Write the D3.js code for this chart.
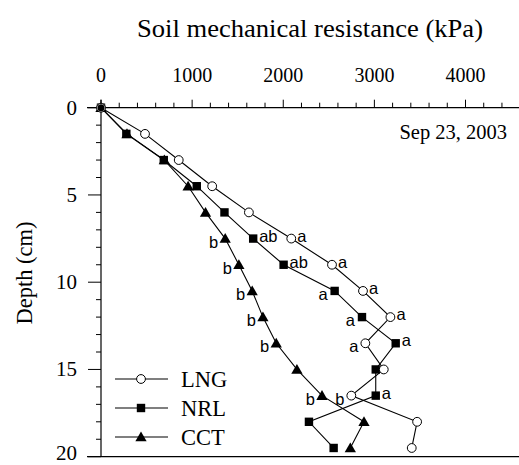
<!DOCTYPE html>
<html>
<head>
<meta charset="utf-8">
<script src="https://cdn.jsdelivr.net/npm/d3@7"></script>
<style>
  body { margin: 0; background: #fff; }
  .serif { font-family: "Liberation Serif", "DejaVu Serif", serif; }
  .sans { font-family: "Liberation Sans", Arial, sans-serif; }
</style>
</head>
<body>
<svg id="chart" width="519" height="465"></svg>
<script>
/*---- DATA ----*/
var depths = [0, 1.5, 3, 4.5, 6, 7.5, 9, 10.5, 12, 13.5, 15, 16.5, 18, 19.5];
var lng = [0, 483, 853, 1220, 1623, 2088, 2535, 2875, 3176, 2901, 3103, 2747, 3469, 3410];
var nrl = [0, 278, 689, 1051, 1355, 1670, 2004, 2564, 2864, 3234, 3015, 3015, 2282, 2553];
var cct = [0, 285, 695, 956, 1147, 1363, 1513, 1659, 1777, 1923, 2150, 2425, 2886, 2736];
// significance letters: [depth, text, side]
var lng_letters = [[7.5, "a", "r"], [9, "a", "r"], [10.5, "a", "r"], [12, "a", "r"], [13.5, "a", "l"], [16.5, "b", "l"]];
var nrl_letters = [[7.5, "ab", "r"], [9, "ab", "r"], [10.5, "a", "l"], [12, "a", "l"], [13.5, "a", "r"], [16.5, "a", "r"]];
var cct_letters = [[7.5, "b", "l"], [9, "b", "l"], [10.5, "b", "l"], [12, "b", "l"], [13.5, "b", "l"], [16.5, "b", "l"]];
var x_ticks = [0, 1000, 2000, 3000, 4000];
var y_ticks = [0, 5, 10, 15, 20];
var series_names = ["LNG", "NRL", "CCT"];

/*---- SCALES ----*/
var svg = d3.select("#chart");
var x = d3.scaleLinear().domain([0, 4000]).range([101, 465.5]);
var y = d3.scaleLinear().domain([0, 20]).range([107.7, 456.7]);

function pts(vals) {
    return vals.map(function(v, i) { return [v, depths[i]]; });
}
var line = d3.line().x(function(d) { return x(d[0]); }).y(function(d) { return y(d[1]); });

/*---- AXES ----*/
// top axis
var top_axis = svg.append("g").attr("transform", "translate(0," + y(0) + ")");
top_axis.append("line").attr("x1", 87).attr("x2", 519).attr("stroke", "#000").attr("stroke-width", 1.2);
top_axis.selectAll(".xminor")
    .data(d3.range(0, 4600, 200))
    .enter().append("line")
    .attr("x1", x).attr("x2", x)
    .attr("y1", 0)
    .attr("y2", function(d) { return d % 1000 === 0 ? -8 : -5; })
    .attr("stroke", "#000").attr("stroke-width", 1);
top_axis.selectAll(".xlab")
    .data(x_ticks)
    .enter().append("text")
    .attr("class", "serif")
    .attr("x", x).attr("y", -26)
    .attr("text-anchor", "middle")
    .attr("font-size", 20)
    .text(function(d) { return d; });

// bottom line
svg.append("line").attr("x1", 87).attr("x2", 519)
    .attr("y1", y(20)).attr("y2", y(20))
    .attr("stroke", "#000").attr("stroke-width", 1.2);

// left axis
var left_axis = svg.append("g").attr("transform", "translate(" + x(0) + ",0)");
left_axis.append("line").attr("y1", y(0) - 8).attr("y2", y(20)).attr("stroke", "#000").attr("stroke-width", 1.2);
left_axis.selectAll(".ytick")
    .data(d3.range(0, 21, 1))
    .enter().append("line")
    .attr("y1", y).attr("y2", y)
    .attr("x1", 0)
    .attr("x2", function(d) { return d % 5 === 0 ? -13 : -5; })
    .attr("stroke", "#000").attr("stroke-width", 1);
left_axis.selectAll(".ylab")
    .data(y_ticks)
    .enter().append("text")
    .attr("class", "serif")
    .attr("x", -24).attr("y", function(d) { return Math.min(y(d) + 7, 460); })
    .attr("text-anchor", "end")
    .attr("font-size", 21)
    .text(function(d) { return d; });

// titles
svg.append("text").attr("class", "serif")
    .attr("x", 310).attr("y", 37)
    .attr("text-anchor", "middle").attr("font-size", 25)
    .attr("textLength", 346).attr("lengthAdjust", "spacingAndGlyphs")
    .text("Soil mechanical resistance (kPa)");
svg.append("text").attr("class", "serif")
    .attr("transform", "translate(32,273) rotate(-90)")
    .attr("text-anchor", "middle").attr("font-size", 22.5)
    .text("Depth (cm)");
svg.append("text").attr("class", "serif")
    .attr("x", 507).attr("y", 139)
    .attr("text-anchor", "end").attr("font-size", 20.5)
    .text("Sep 23, 2003");

/*---- SERIES ----*/
var tri = d3.symbol().type(d3.symbolTriangle).size(55);

function draw_series(vals, kind) {
    var g = svg.append("g");
    g.append("path").datum(pts(vals))
        .attr("d", line).attr("fill", "none")
        .attr("stroke", "#000").attr("stroke-width", 1.1);
    var m = g.selectAll(".pt").data(pts(vals)).enter();
    draw_marker(m, kind, function(d) { return x(d[0]); }, function(d) { return y(d[1]); });
}

function draw_marker(sel, kind, fx, fy) {
    if (kind === "circle") {
        sel.append("circle").attr("cx", fx).attr("cy", fy).attr("r", 4.4)
            .attr("fill", "#fff").attr("stroke", "#000").attr("stroke-width", 1);
    } else if (kind === "square") {
        sel.append("rect")
            .attr("x", function(d) { return fx(d) - 4.2; })
            .attr("y", function(d) { return fy(d) - 4.2; })
            .attr("width", 8.4).attr("height", 8.4).attr("fill", "#000");
    } else {
        sel.append("path").attr("d", tri)
            .attr("transform", function(d) { return "translate(" + fx(d) + "," + (fy(d) + 1) + ")"; })
            .attr("fill", "#000");
    }
}

draw_series(cct, "tri");
draw_series(nrl, "square");
draw_series(lng, "circle");
// origin dot
svg.append("circle").attr("cx", x(0)).attr("cy", y(0)).attr("r", 3.5).attr("fill", "#000");

function draw_letters(vals, letters) {
    svg.selectAll(null)
        .data(letters)
        .enter().append("text")
        .attr("class", "sans")
        .attr("font-size", 16.5)
        .attr("x", function(d) {
            var v = vals[depths.indexOf(d[0])];
            return d[2] === "r" ? x(v) + 6 : x(v) - 7;
        })
        .attr("y", function(d) { return y(d[0]) + (d[2] === "r" ? 3 : 9); })
        .attr("text-anchor", function(d) { return d[2] === "r" ? "start" : "end"; })
        .text(function(d) { return d[1]; });
}
draw_letters(lng, lng_letters);
draw_letters(nrl, nrl_letters);
draw_letters(cct, cct_letters);

/*---- LEGEND ----*/
var legend_kinds = ["circle", "square", "tri"];
var legend_y = [379, 408, 437];
var lg = svg.selectAll(".legend")
    .data(series_names)
    .enter().append("g");
lg.append("line")
    .attr("x1", 115).attr("x2", 168)
    .attr("y1", function(d, i) { return legend_y[i]; })
    .attr("y2", function(d, i) { return legend_y[i]; })
    .attr("stroke", "#000").attr("stroke-width", 1.1);
legend_kinds.forEach(function(k, i) {
    draw_marker(svg.append("g").selectAll(null).data([i]).enter(), k,
        function() { return 141; }, function(d) { return legend_y[d]; });
});
lg.append("text")
    .attr("class", "serif")
    .attr("x", 181)
    .attr("y", function(d, i) { return legend_y[i] + 8; })
    .attr("font-size", 22.5)
    .text(function(d) { return d; });
</script>
</body>
</html>
